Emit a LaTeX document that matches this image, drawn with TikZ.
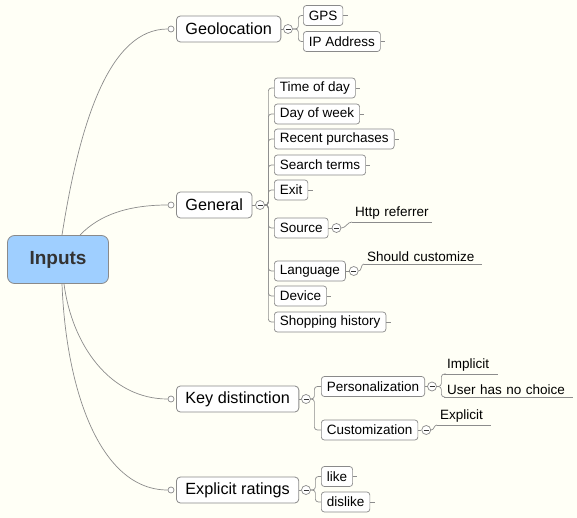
\documentclass[tikz,border=0pt]{standalone}
\usepackage{fontspec}
\setmainfont{Liberation Sans}
\definecolor{bg}{HTML}{FFFFF6}
\definecolor{ln}{HTML}{8C8C8C}
\definecolor{bd}{HTML}{8A8A8A}
\definecolor{rootfill}{HTML}{9FCFFF}
\definecolor{roottext}{HTML}{333333}
\newcommand{\leaffont}{\fontsize{13.5}{14}\selectfont}
\newcommand{\mainfont}{\fontsize{16.2}{18}\selectfont}
\begin{document}
\begin{tikzpicture}[x=1pt,y=-1pt,
  conn/.style={draw=ln, line width=0.7pt},
  rootbox/.style={draw=bd, fill=rootfill, rounded corners=7pt, minimum width=101, minimum height=48,
    font=\fontsize{19}{20}\selectfont\bfseries, text=roottext, line width=0.8pt},
  mainbox/.style={draw=bd, fill=white, rounded corners=4pt, minimum height=26, inner xsep=9,
    inner ysep=0, font=\mainfont, anchor=west, line width=0.8pt},
  leafbox/.style={draw=bd, fill=white, rounded corners=3pt, minimum height=20, inner xsep=5.5,
    inner ysep=0, font=\leaffont, anchor=west, line width=0.7pt},
  ubox/.style={inner xsep=3, inner ysep=2.5, font=\leaffont, anchor=south west, align=left},
  colbox/.style={circle, draw=bd, fill=white, minimum size=9, inner sep=0, line width=0.7pt},
  dot/.style={circle, draw=bd, fill=white, minimum size=6, inner sep=0, line width=0.7pt},
  rc/.style={conn, rounded corners=3pt}
]
\fill[bg] (0,0) rectangle (577,518);
\useasboundingbox (0,0) rectangle (577,518);

% root
\node[rootbox] (root) at (58,259.5) {Inputs};

% main topics
\node[mainbox] (geo) at (176,29) {Geolocation};
\node[mainbox] (gen) at (176,205) {General};
\node[mainbox] (key) at (176,399) {Key distinction};
\node[mainbox] (exr) at (176,490) {Explicit ratings};

\node[dot] (geoD) at (171,29) {};
\node[dot] (genD) at (171,205) {};
\node[dot] (keyD) at (171,399) {};
\node[dot] (exrD) at (171,490) {};

% root connectors
\coordinate (r1) at ([xshift=4]root.north);
\coordinate (r2) at ([xshift=22]root.north);
\coordinate (r3) at ([xshift=6]root.south);
\coordinate (r4) at ([xshift=4]root.south);
\draw[conn] (r1) .. controls (80,120) and (110,29) .. (geoD.west);
\draw[conn] (r2) .. controls (100,214) and (130,205) .. (genD.west);
\draw[conn] (r3) .. controls (72,345) and (110,399) .. (keyD.west);
\draw[conn] (r4) .. controls (66,390) and (100,490) .. (exrD.west);

% collapse circles of main topics
\node[colbox] (geoC) at (288,29) {};
\node[colbox] (genC) at (260,205) {};
\node[colbox] (keyC) at (306,399) {};
\node[colbox] (exrC) at (306,490) {};
\foreach \m in {geo,gen,key,exr}{\draw[conn] (\m.east) -- (\m C.west);}

% geolocation children
\node[leafbox] (gps) at (303,15.5) {GPS};
\node[leafbox] (ip) at (303,41.5) {IP Address};
\foreach \c in {gps,ip}{\draw[rc] (geoC.east) -- ++(5.5,0) |- (\c.west);}

% general children
\node[leafbox] (tod) at (274,88) {Time of day};
\node[leafbox] (dow) at (274,114) {Day of week};
\node[leafbox] (rp) at (274,139) {Recent purchases};
\node[leafbox] (st) at (274,165) {Search terms};
\node[leafbox] (ex) at (274,190) {Exit};
\node[leafbox] (src) at (274,228) {Source};
\node[leafbox] (lang) at (274,271) {Language};
\node[leafbox] (dev) at (274,296) {Device};
\node[leafbox] (sh) at (274,322) {Shopping history};
\foreach \c in {tod,dow,rp,st,ex,src,lang,dev,sh}{\draw[rc] (genC.east) -- ++(3.5,0) |- (\c.west);}

% key distinction children
\node[leafbox] (pers) at (321,386.5) {Personalization};
\node[leafbox] (cust) at (321,430) {Customization};
\foreach \c in {pers,cust}{\draw[rc] (keyC.east) -- ++(3.5,0) |- (\c.west);}

% explicit ratings children
\node[leafbox] (like) at (321,476.5) {like};
\node[leafbox] (dis) at (321,502) {dislike};
\foreach \c in {like,dis}{\draw[rc] (exrC.east) -- ++(4.5,0) |- (\c.west);}

% ticks on leaves without children
\foreach \c in {gps,ip,tod,dow,rp,st,ex,dev,sh,like,dis}{\draw[conn] (\c.east) -- ++(4.5,0);}

% second level collapse circles
\node[colbox] (srcC) at ([xshift=8]src.east) {};
\node[colbox] (langC) at ([xshift=8]lang.east) {};
\node[colbox] (persC) at ([xshift=7]pers.east) {};
\node[colbox] (custC) at ([xshift=8]cust.east) {};
\foreach \m in {src,lang,pers,cust}{\draw[conn] (\m.east) -- (\m C.west);}

% underlined leaves
\node[ubox, text width=74] (http) at (352,222) {Http referrer};
\node[ubox, text width=112] (shc) at (364,264) {Should customize};
\node[ubox, text width=48] (imp) at (444,374) {Implicit};
\node[ubox, text width=123] (unc) at (444,397) {User has no choice};
\node[ubox, text width=48] (expl) at (437,425) {Explicit};
\foreach \u in {http,shc,imp,unc,expl}{\draw[conn] (\u.south west) -- (\u.south east);}

\draw[conn] (srcC.east) to[out=0,in=180] (http.south west);
\draw[conn] (langC.east) to[out=0,in=180] (shc.south west);
\draw[conn] (custC.east) to[out=0,in=180] (expl.south west);
\foreach \u in {imp,unc}{\draw[rc] (persC.east) -- ++(4.5,0) |- (\u.south west);}

% minus signs
\foreach \m in {geoC,genC,keyC,exrC,srcC,langC,persC,custC}{
  \draw[draw=roottext, line width=0.8pt] ([xshift=-2.5]\m.center) -- ([xshift=2.5]\m.center);}
\end{tikzpicture}
\end{document}
